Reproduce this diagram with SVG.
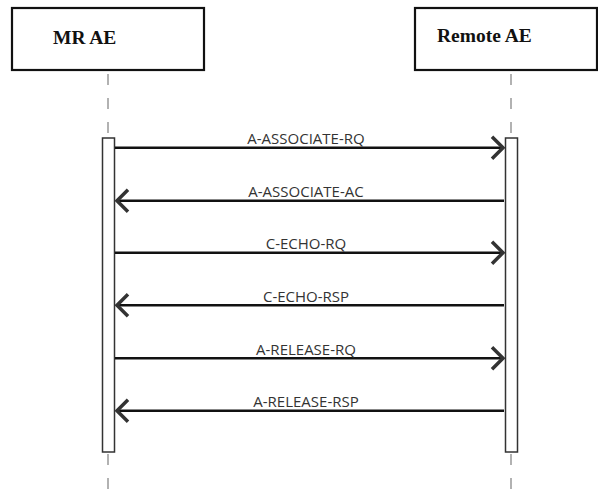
<svg xmlns="http://www.w3.org/2000/svg" width="598" height="491" viewBox="0 0 598 491">
<style>
.box{fill:#fff;stroke:#111;stroke-width:2.2}
.hdr{font-family:"Liberation Serif",serif;font-weight:bold;font-size:19.5px;fill:#111}
.life{stroke:#999;stroke-width:1.5;stroke-dasharray:11 13;fill:none}
.act{fill:#fff;stroke:#333;stroke-width:1.5}
.msg{stroke:#111;stroke-width:2.5;fill:none;marker-end:url(#ah)}
.lbl{font-family:"Open Sans",sans-serif;font-size:15px;fill:#333;text-anchor:middle}
</style>
<defs>
<marker id="ah" markerUnits="userSpaceOnUse" orient="auto" markerWidth="30" markerHeight="30" refX="0" refY="0" viewBox="-15 -15 30 30" overflow="visible">
<path d="M-11,-11 L0,0 L-11,11" fill="none" stroke="#333" stroke-width="3.5" stroke-linejoin="miter"/>
</marker>
</defs>
<g id="mr-ae">
<rect class="box" x="12" y="8" width="192" height="62"/>
<text class="hdr" x="53" y="44">MR AE</text>
<line class="life" x1="108" y1="74" x2="108" y2="137"/>
<line class="life" x1="108" y1="454" x2="108" y2="491"/>
<rect class="act" x="102.5" y="138" width="12" height="314"/>
</g>
<g id="remote-ae">
<rect class="box" x="415" y="8" width="182" height="62"/>
<text class="hdr" x="437" y="42">Remote AE</text>
<line class="life" x1="511" y1="74" x2="511" y2="137"/>
<line class="life" x1="511" y1="454" x2="511" y2="491"/>
<rect class="act" x="505.5" y="138" width="12" height="314"/>
</g>
<g id="connectors">
<line class="msg" x1="115" y1="147.7" x2="503" y2="147.7"/>
<line class="msg" x1="504" y1="200.7" x2="117" y2="200.7"/>
<line class="msg" x1="115" y1="252.7" x2="503" y2="252.7"/>
<line class="msg" x1="504" y1="305.3" x2="117" y2="305.3"/>
<line class="msg" x1="115" y1="358.3" x2="503" y2="358.3"/>
<line class="msg" x1="504" y1="410.7" x2="117" y2="410.7"/>
<text class="lbl" x="306" y="144.3">A-ASSOCIATE-RQ</text>
<text class="lbl" x="306" y="197.3">A-ASSOCIATE-AC</text>
<text class="lbl" x="306" y="249.3">C-ECHO-RQ</text>
<text class="lbl" x="306" y="302">C-ECHO-RSP</text>
<text class="lbl" x="306" y="355">A-RELEASE-RQ</text>
<text class="lbl" x="306" y="407.3">A-RELEASE-RSP</text>
</g>
</svg>
